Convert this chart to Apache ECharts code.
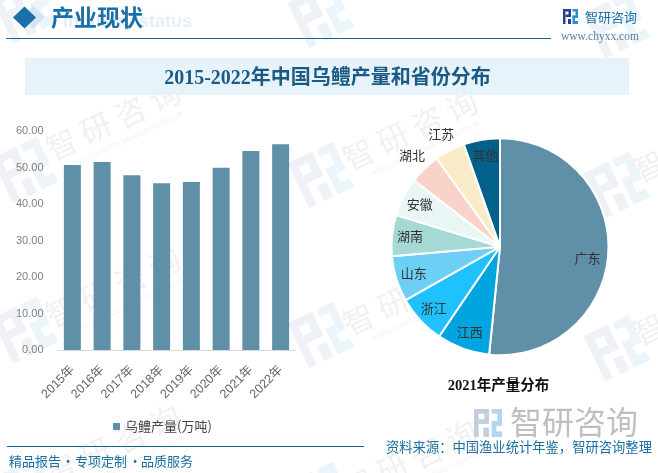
<!DOCTYPE html>
<html><head><meta charset="utf-8">
<style>html,body{margin:0;padding:0;background:#fff}#c{width:658px;height:473px}</style>
<script src="https://cdn.jsdelivr.net/npm/echarts@6/dist/echarts.min.js"></script>
</head><body><div id="c"></div>
<script>
const years = ['2015年','2016年','2017年','2018年','2019年','2020年','2021年','2022年'];
const output = [50.7,51.5,47.9,45.7,46.0,49.9,54.5,56.4];
const provinces = ['广东','江西','浙江','山东','湖南','安徽','湖北','江苏','其他'];
const shares = [51.6,7.9,7.3,6.8,6.1,5.8,4.6,4.5,5.4];
const sliceColors = ['#5F90A8','#00A5DF','#1FC1FF','#6DCFF6','#A5D9D5','#EAF6F6','#F9D2CA','#FAEBC8','#02618A'];
const outerLabels = ['湖北','江苏'];
const yTicks = {min:0,max:60,interval:10};

const SANS = '"Noto Sans CJK SC","Liberation Sans",sans-serif';
const SERIF = '"Liberation Serif","Noto Sans CJK SC",serif';

function logo(x,y,s,c1,c2){
  const u=s/15, r=(a,b,w,h,f)=>({type:'rect',shape:{x:x+a*u,y:y+b*u,width:w*u,height:h*u},style:{fill:f},silent:true});
  return [
    r(0,0,8,2.5,c1),r(0,0,2.5,15,c1),r(5.5,0,2.5,8,c1),r(2.5,5.5,5,2.5,c1),r(5,10,3,5,c1),
    r(9.5,0,5.5,2.5,c2),r(12.5,0,2.5,9,c2),r(9.5,6.5,5.5,2.5,c2),r(9.5,6.5,2.5,6,c2),r(9.5,12,5.5,3,c2)
  ];
}
function wmLogo(cx,cy){
  return {type:'group',x:cx,y:cy,rotation:0.44,silent:true,z:0,children:logo(-25,-25,50,'#EEF1F5','#EBF5FA')};
}
function wmText(cx,cy){
  return {type:'group',x:cx,y:cy,rotation:0.44,silent:true,z:0,children:[
    {type:'text',x:0,y:0,style:{text:'智 研 咨 询',font:'31px '+SANS,fill:'#F1F1F2',textAlign:'center',textVerticalAlign:'middle'}},
    {type:'text',x:6,y:24,style:{text:'INTELLIGENCE RESEARCH GROUP',font:'7px "Liberation Sans"',fill:'#F1F1F2',textAlign:'center',textVerticalAlign:'middle'}}
  ]};
}
const wm=[];
[[25,10],[25,170],[25,330],[25,490],[321,15],[321,175],[321,335],[321,495],[617,25],[617,185],[617,348]].forEach(p=>wm.push(wmLogo(p[0],p[1])));
[[113,120],[113,287],[113,445],[410,130],[410,295],[410,460],[700,142],[700,305],[700,465]].forEach(p=>wm.push(wmText(p[0],p[1])));

const graphics = wm.concat([
  {type:'rect',shape:{x:25,y:58,width:604,height:37},style:{fill:'#E6F3FB'},silent:true,z:1},
  {type:'text',x:327.5,y:79,z:3,style:{text:'2015-2022年中国乌鳢产量和省份分布',font:'bold 20px '+SERIF,fill:'#1B5A85',textAlign:'center',textVerticalAlign:'middle'}},
  {type:'polygon',z:2,shape:{points:[[33,6],[45,17.5],[33,29],[21,17.5]]},style:{fill:'#D3E6F2'},silent:true},
  {type:'polygon',z:3,shape:{points:[[24.5,6.5],[36,17.5],[24.5,28.5],[13,17.5]]},style:{fill:'#1A6FAB'},silent:true},
  {type:'text',x:63,y:22,z:2,style:{text:'Industry status',font:'bold 18px "Liberation Sans"',fill:'#E3F0FA',textVerticalAlign:'middle'}},
  {type:'text',x:51,y:17,z:3,style:{text:'产业现状',font:'bold 23px '+SANS,fill:'#1A6FA8',textVerticalAlign:'middle'}},
  {type:'line',z:3,shape:{x1:6,y1:38.5,x2:551,y2:38.5},style:{stroke:'#0F659C',lineWidth:1}},
  ...logo(563,9,15,'#23408F','#2D8FD5').map(o=>({...o,z:3})),
  {type:'text',x:585,y:17,z:3,style:{text:'智研咨询',font:'13px '+SANS,fill:'#1A6FA8',textVerticalAlign:'middle'}},
  {type:'text',x:561,y:37,z:3,style:{text:'www.chyxx.com',font:'11.5px "Liberation Serif"',fill:'#5D7F9E',textVerticalAlign:'middle'}},
  {type:'text',x:498.5,y:386,z:3,style:{text:'2021年产量分布',font:'bold 14.5px '+SERIF,fill:'#111',textAlign:'center',textVerticalAlign:'middle'}},
  ...logo(474,409,28,'#C3CEDC','#B0D7EF').map(o=>({...o,z:3})),
  {type:'text',x:510,y:422,z:3,style:{text:'智研咨询',font:'32px '+SANS,fill:'#BFBFBF',textVerticalAlign:'middle'}},
  {type:'line',z:3,shape:{x1:7,y1:446.5,x2:364,y2:446.5},style:{stroke:'#0F659C',lineWidth:1}},
  {type:'text',x:9,y:461,z:3,style:{text:'精品报告',font:'13px '+SANS,fill:'#1A6FA0',textVerticalAlign:'middle'}},
  {type:'text',x:68,y:461,z:3,style:{text:'·',font:'13px '+SANS,fill:'#1A6FA0',textAlign:'center',textVerticalAlign:'middle'}},
  {type:'text',x:75,y:461,z:3,style:{text:'专项定制',font:'13px '+SANS,fill:'#1A6FA0',textVerticalAlign:'middle'}},
  {type:'text',x:135,y:461,z:3,style:{text:'·',font:'13px '+SANS,fill:'#1A6FA0',textAlign:'center',textVerticalAlign:'middle'}},
  {type:'text',x:141,y:461,z:3,style:{text:'品质服务',font:'13px '+SANS,fill:'#1A6FA0',textVerticalAlign:'middle'}},
  {type:'text',x:386,y:447,z:3,style:{text:'资料来源：中国渔业统计年鉴，智研咨询整理',font:'13.3px '+SANS,fill:'#1A6FA0',textVerticalAlign:'middle'}}
]);

const chart = echarts.init(document.getElementById('c'),null,{renderer:'canvas'});
const pieBase = {type:'pie',center:[500,246.7],startAngle:90,clockwise:true,avoidLabelOverlap:false,animation:false,labelLine:{show:false},silent:true};
const labelStyle = {position:'inside',color:'#333',fontSize:13,fontFamily:SANS,formatter:'{b}'};
chart.setOption({
  animation:false,
  backgroundColor:'#fff',
  graphic:graphics,
  grid:{left:57.5,top:131,width:238,height:219,containLabel:false},
  legend:{show:true,left:108,top:415,itemWidth:7,itemHeight:7,itemGap:5,icon:'rect',data:['乌鳢产量(万吨)'],textStyle:{color:'#444',fontSize:13,fontFamily:SANS}},
  xAxis:{type:'category',data:years,axisLine:{lineStyle:{color:'#D9D9D9'}},axisTick:{show:false},
    axisLabel:{rotate:45,color:'#666',fontSize:12.5,fontFamily:'"Liberation Sans","Noto Sans CJK SC",sans-serif',interval:0,margin:18}},
  yAxis:{type:'value',...yTicks,splitLine:{show:false},axisLine:{show:false},axisTick:{show:false},
    axisLabel:{color:'#7F7F7F',fontSize:11,fontFamily:'"Liberation Sans",sans-serif',margin:14,formatter:v=>v.toFixed(2)}},
  series:[
    {name:'乌鳢产量(万吨)',type:'bar',data:output,barWidth:17,itemStyle:{color:'#5F90A8'},z:4},
    {...pieBase,radius:[0,108.5],z:4,label:{show:false},
      data:provinces.map((n,i)=>({name:n,value:shares[i],itemStyle:{color:sliceColors[i],borderColor:'#fff',borderWidth:2}}))},
    {...pieBase,radius:[70,107],z:5,
      itemStyle:{color:'transparent'},label:labelStyle,
      data:provinces.map((n,i)=>({name:n,value:shares[i],label:{show:!outerLabels.includes(n),offset:n==='广东'?[-4,7]:[1,-1]}}))},
    {...pieBase,radius:[106,142],z:5,
      itemStyle:{color:'transparent'},label:labelStyle,
      data:provinces.map((n,i)=>({name:n,value:shares[i],label:{show:outerLabels.includes(n)}}))}
  ]
});
</script></body></html>
